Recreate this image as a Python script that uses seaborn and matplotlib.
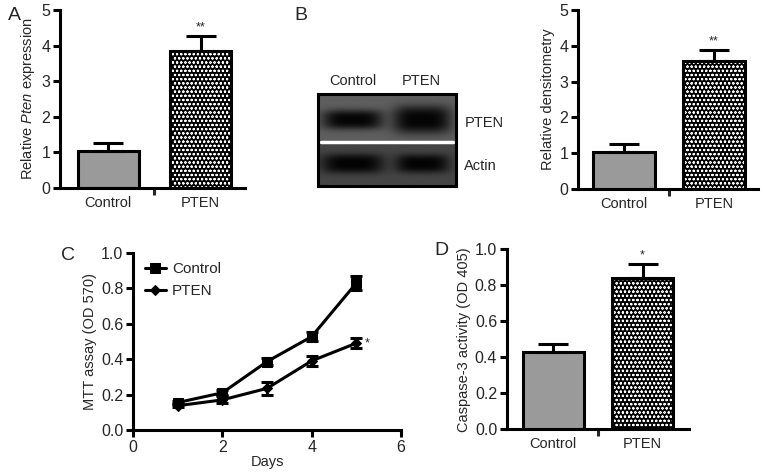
import numpy as np
import matplotlib
matplotlib.use('Agg')
import matplotlib.pyplot as plt
import seaborn as sns
from matplotlib.patches import Rectangle

# ---- data ----
groups = ['Control', 'PTEN']

# A: relative Pten mRNA expression
expr_mean = [1.04, 3.84]
expr_sem = [0.21, 0.44]

# B: relative densitometry of western blot
dens_mean = [1.03, 3.58]
dens_sem = [0.23, 0.30]

# B: blot band sizes (width / height per lane) for each probed protein
blot_rows = ['PTEN', 'Actin']
blot_band_h = {'PTEN': [0.42, 0.60], 'Actin': [0.42, 0.40]}
blot_band_w = {'PTEN': [0.88, 0.84], 'Actin': [0.90, 0.78]}

# C: MTT assay
days = [1, 2, 3, 4, 5]
mtt_control = [0.155, 0.21, 0.386, 0.527, 0.829]
mtt_control_sem = [0.010, 0.015, 0.020, 0.025, 0.040]
mtt_pten = [0.137, 0.17, 0.235, 0.39, 0.49]
mtt_pten_sem = [0.010, 0.020, 0.035, 0.030, 0.030]

# D: caspase-3 activity
casp_mean = [0.427, 0.842]
casp_sem = [0.044, 0.075]

sns.set_style('ticks')
plt.rcParams['font.family'] = ['Liberation Sans', 'DejaVu Sans']
plt.rcParams['mathtext.fontset'] = 'custom'
plt.rcParams['mathtext.rm'] = 'Liberation Sans'
plt.rcParams['mathtext.it'] = 'Liberation Sans:italic'
plt.rcParams['hatch.linewidth'] = 0.5
plt.rcParams['axes.linewidth'] = 2.2

LW = 2.2
fig = plt.figure(figsize=(7.65, 4.74), dpi=100)


def style_axes(ax):
    sns.despine(ax=ax)
    for s in ['left', 'bottom']:
        ax.spines[s].set_linewidth(LW)
        ax.spines[s].set_color('black')
    ax.tick_params(axis='y', which='major', length=5, width=LW, labelsize=11.5,
                   direction='out', color='black', pad=2)
    ax.tick_params(axis='x', labelsize=10.5, color='black')


def bar_panel(ax, means, sems, ylabel, ylim, yticks, star, xlim, width):
    sns.barplot(x=groups, y=means, hue=groups, palette=['#9a9a9a', 'black'],
                legend=False, errorbar=None, width=width, ax=ax,
                edgecolor='black', linewidth=LW)
    ax.errorbar([0, 1], means, yerr=[np.zeros(2), sems], fmt='none',
                ecolor='black', elinewidth=LW, capsize=11, capthick=LW, zorder=1)
    # dotted fill for the PTEN bar: white hatch on black, outline drawn on top
    p = ax.patches[1]
    p.set_edgecolor('white')
    p.set_hatch('oooo')
    p.set_linewidth(0)
    ax.add_patch(Rectangle(p.get_xy(), p.get_width(), p.get_height(), fill=False,
                           edgecolor='black', linewidth=LW, zorder=3))
    ax.text(1, means[1] + sems[1] + (ylim[1] * 0.015), star, ha='center',
            va='bottom', fontsize=9)
    ax.set_xlim(*xlim)
    ax.set_ylim(*ylim)
    ax.set_yticks(yticks)
    ax.set_ylabel(ylabel, fontsize=10.5, labelpad=3)
    style_axes(ax)
    ax.tick_params(axis='x', which='major', length=0, pad=6)
    ax.set_xticks([0.5], minor=True)
    ax.tick_params(axis='x', which='minor', length=5, width=LW, direction='out')


# ---- A ----
axA = fig.add_axes([0.0784, 0.6034, 0.2418, 0.3755])
bar_panel(axA, expr_mean, expr_sem, 'Relative $\\it{Pten}$ expression',
          (0, 5), range(6), '**', (-0.52, 1.48), 0.66)

# ---- B bars ----
axB = fig.add_axes([0.7556, 0.6013, 0.2353, 0.3776])
bar_panel(axB, dens_mean, dens_sem, 'Relative densitometry',
          (0, 5), range(6), '**', (-0.51, 1.49), 0.69)

# ---- B blot ----
axW = fig.add_axes([0.4157, 0.6076, 0.1804, 0.1941])
row_y = {'PTEN': 1.43, 'Actin': 0.48}
xs = np.linspace(0, 2, 280)
ys = np.linspace(0, 2, 190)
X, Y = np.meshgrid(xs, ys)
img = np.where(Y > 0.96, 0.37, 0.27)
for name in blot_rows:
    for lane in range(2):
        w = blot_band_w[name][lane] / 2
        h = blot_band_h[name][lane] / 2
        band = np.exp(-np.abs((X - lane - 0.5) / w) ** 4 - np.abs((Y - row_y[name]) / h) ** 3)
        img = img * (1 - 0.95 * band)
axW.imshow(img, cmap='gray', vmin=0, vmax=1, origin='lower', extent=(0, 2, 0, 2),
           aspect='auto', interpolation='bilinear')
axW.plot([0.05, 1.95], [0.96, 0.96], color='white', lw=2.5, zorder=2)
axW.set_xlim(0, 2)
axW.set_ylim(0, 2)
axW.set_xticks([])
axW.set_yticks([])
for s in axW.spines.values():
    s.set_linewidth(LW)
    s.set_color('black')
    s.set_visible(True)
for lane, g in enumerate(groups):
    axW.text(lane + 0.5, 2.12, g, ha='center', va='bottom', fontsize=10.5)
for name in blot_rows:
    axW.text(2.12, row_y[name] - 0.05, name, ha='left', va='center', fontsize=10.5)

# ---- C ----
axC = fig.add_axes([0.1739, 0.0928, 0.3503, 0.374])
for vals, err, mk, lab in [(mtt_control, mtt_control_sem, 's', 'Control'),
                           (mtt_pten, mtt_pten_sem, 'D', 'PTEN')]:
    sns.lineplot(x=days, y=vals, ax=axC, color='black', lw=LW, marker=mk,
                 markersize=6.5 if mk == 's' else 5.5, markeredgecolor='black',
                 label=lab)
    axC.errorbar(days, vals, yerr=err, fmt='none', ecolor='black',
                 elinewidth=LW, capsize=4.5, capthick=LW)
axC.text(days[-1] + 0.18, mtt_pten[-1], '*', ha='left', va='center', fontsize=9)
axC.set_xlim(0, 6)
axC.set_ylim(0, 1.0)
axC.set_xticks([0, 2, 4, 6])
axC.set_yticks([0, 0.2, 0.4, 0.6, 0.8, 1.0])
axC.set_yticklabels(['0.0', '0.2', '0.4', '0.6', '0.8', '1.0'])
axC.set_xlabel('Days', fontsize=10.5, labelpad=0)
axC.set_ylabel('MTT assay (OD 570)', fontsize=10.5, labelpad=3)
style_axes(axC)
axC.tick_params(axis='x', length=5, width=LW, labelsize=11.5, pad=2)
axC.legend(loc='upper left', bbox_to_anchor=(0.02, 0.98), frameon=False,
           fontsize=11, handlelength=1.4, handletextpad=0.4, labelspacing=0.5,
           borderaxespad=0)

# ---- D ----
axD = fig.add_axes([0.6627, 0.0949, 0.2379, 0.379])
bar_panel(axD, casp_mean, casp_sem, 'Caspase-3 activity (OD 405)',
          (0, 1.0), [0, 0.2, 0.4, 0.6, 0.8, 1.0], '*', (-0.52, 1.52), 0.685)
axD.set_yticklabels(['0.0', '0.2', '0.4', '0.6', '0.8', '1.0'])

# panel letters
for lbl, x, y in [('A', 0.010, 0.968), ('B', 0.385, 0.968),
                  ('C', 0.080, 0.462), ('D', 0.568, 0.472)]:
    fig.text(x, y, lbl, fontsize=14, ha='left', va='center')

fig.savefig('out.png', dpi=100)
